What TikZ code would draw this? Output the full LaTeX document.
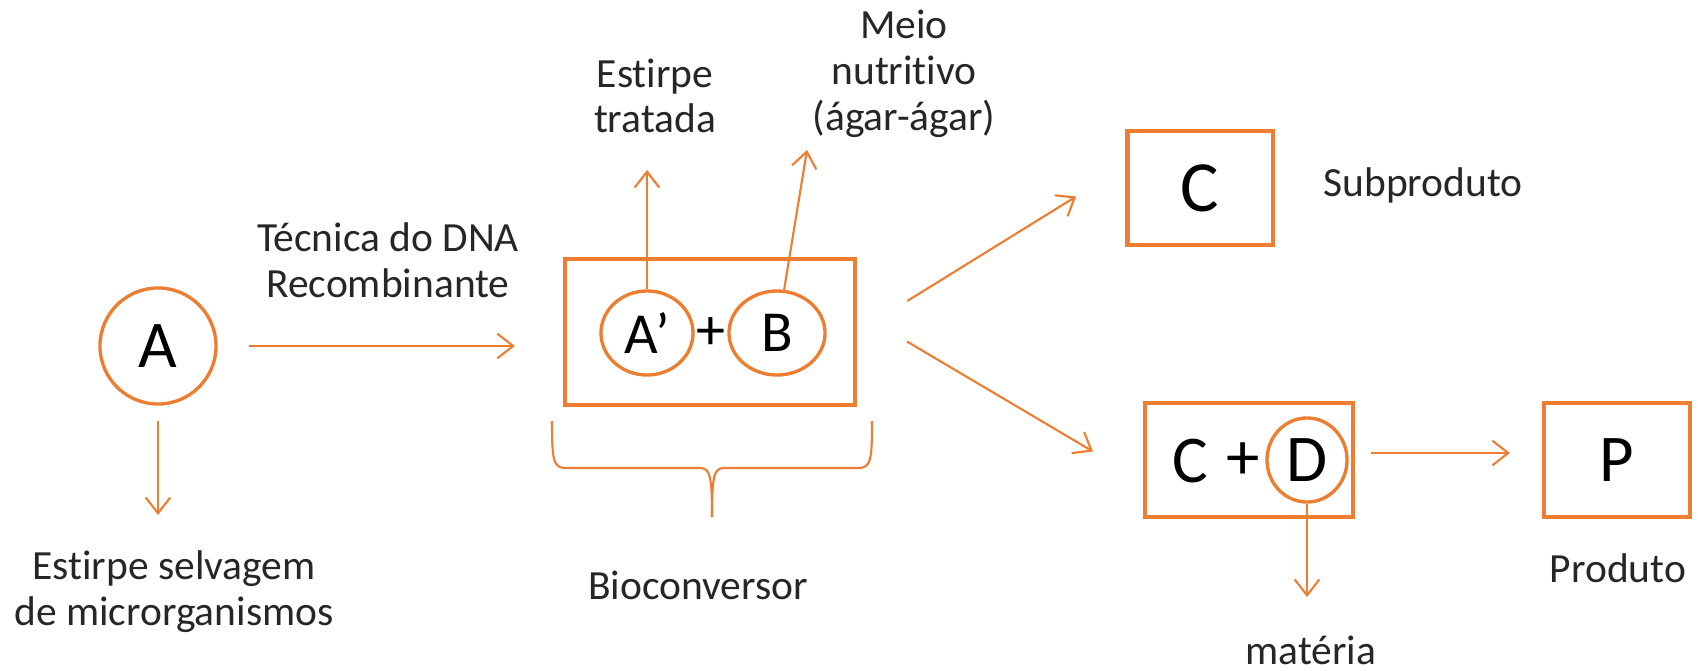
\documentclass[tikz,border=0pt]{standalone}
\usepackage{fontspec}
\setmainfont{Carlito}[Ligatures=NoCommon]
\usetikzlibrary{arrows.meta,shapes.geometric}

\definecolor{laranja}{RGB}{237,125,49}

\tikzset{
    lbl/.style={font=\fontsize{11.8}{13}\selectfont, align=center, text=black!85},
    big/.style={font=\fontsize{19}{22}\selectfont, inner sep=0pt},
    mid/.style={font=\fontsize{16.5}{20}\selectfont, inner sep=0pt},
    caixa/.style={draw=laranja, line width=1.15pt, rectangle, inner sep=0pt},
    anel/.style={draw=laranja, line width=0.95pt, ellipse, inner sep=0pt},
    seta/.style={draw=laranja, line width=0.6pt, -{Straight Barb[length=4.5pt,width=7pt]}}
}

\begin{document}
\begin{tikzpicture}[x=0.01cm,y=-0.01cm]
        \useasboundingbox (0,0) rectangle (1698,670);

        % Wild strain
        \node[big, draw=laranja, line width=0.95pt, circle, minimum size=1.16cm] (A) at (158,346) {A};
        \node[lbl] (wild) at (174,592) {Estirpe selvagem\\de microrganismos};
        \coordinate (wildtip) at (158,515);
        \draw[seta, shorten <=0.15cm] (A) -- (wildtip);

        % Recombinant DNA step
        \node[lbl] (tec) at (388,260) {Técnica do DNA\\Recombinante};

        % Bioconverter
        \node[caixa, minimum width=2.9cm, minimum height=1.45cm] (bio) at (710,332) {};
        \node[mid, anel, minimum width=0.92cm, minimum height=0.84cm] (a1) at (647,333) {A’};
        \node[mid, anel, minimum width=0.96cm, minimum height=0.84cm] (b) at (777,333) {B};
        \node[mid] (plus1) at (711,334) {+};
        \draw[seta, shorten <=0.31cm, shorten >=0.48cm] (A.east) -- (A.east -| bio.west);

        % Labels above
        \node[lbl] (treated) at (655,96) {Estirpe\\tratada};
        \node[lbl] (meio) at (904,74) {Meio\\nutritivo\\(ágar-ágar)};
        \coordinate (treattip) at (647,170);
        \coordinate (meiotip) at (807,150);
        \draw[seta] (a1) -- (treattip);
        \draw[seta] (b) -- (meiotip);

        % Brace under the bioconverter
        \draw[laranja, line width=0.6pt] (552,421) .. controls (552,460) and (553,468) .. (566,468)
            -- (700,468) .. controls (710,468) and (712,476) .. (712,517);
        \draw[laranja, line width=0.6pt] (872,421) .. controls (872,460) and (871,468) .. (858,468)
            -- (724,468) .. controls (714,468) and (712,476) .. (712,517);
        \node[lbl] (biolbl) at (698,585) {Bioconversor};

        % By-product
        \node[caixa, font=\fontsize{20.5}{24}\selectfont, minimum width=1.45cm, minimum height=1.14cm] (c) at (1200,188) {C};
        \node[lbl] (sub) at (1423,185) {Subproduto};
        \draw[seta, shorten <=0.59cm, shorten >=0.58cm] (bio.east) -- ([yshift=0.22cm]c.west);

        % C + D
        \node[caixa, minimum width=2.08cm, minimum height=1.13cm] (cd) at (1249,460) {};
        \node[big] (c2) at (1190,461) {C};
        \node[big] (plus2) at (1243,461) {+};
        \node[big, anel, minimum width=0.8cm, minimum height=0.84cm] (d) at (1307,460) {D};
        \draw[seta, shorten <=0.58cm, shorten >=0.58cm] ([yshift=0.2cm]bio.east) -- ([yshift=-0.21cm]cd.west);

        \coordinate (mattip) at (1307,597);
        \draw[seta] (d) -- (mattip);
        \node[lbl] (mat) at (1311,650) {matéria};

        % Product
        \node[caixa, font=\fontsize{19}{22}\selectfont, minimum width=1.46cm, minimum height=1.13cm] (p) at (1617,460) {P};
        \node[lbl] (prod) at (1618,568) {Produto};
        \draw[seta, shorten <=0.16cm, shorten >=0.32cm] ([yshift=0.07cm]cd.east) -- ([yshift=0.07cm]p.west);

    \end{tikzpicture}
\end{document}
